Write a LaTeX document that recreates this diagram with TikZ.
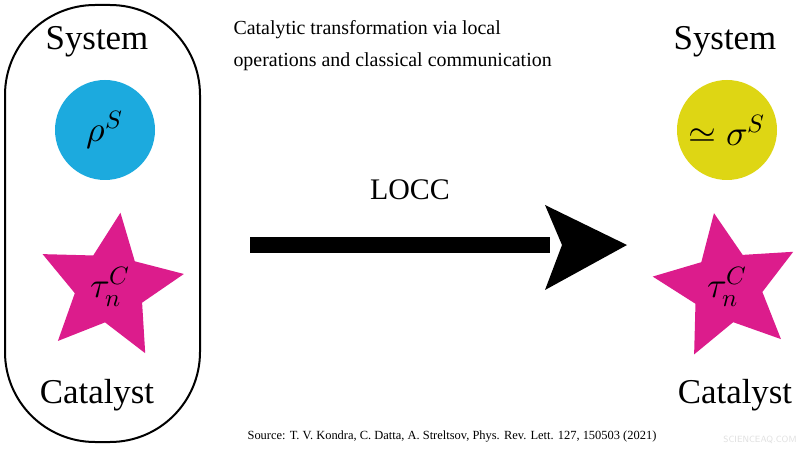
\documentclass[tikz,border=0pt]{standalone}
\usepackage{fontspec}
\usepackage{unicode-math}
\setmainfont{Liberation Serif}
\setmathfont{Latin Modern Math}
\usetikzlibrary{shapes.geometric}
\definecolor{cblue}{RGB}{28,170,222}
\definecolor{cyel}{RGB}{222,214,20}
\definecolor{cmag}{RGB}{220,28,140}
\tikzset{
  big/.style={font=\fontsize{35}{38}\selectfont},
  ball/.style={circle,minimum size=100bp,inner sep=0pt,font=\fontsize{36}{38}\selectfont},
  starshape/.style={star,star points=5,star point ratio=2.1,minimum size=150bp,fill=cmag,inner sep=0pt,font=\fontsize{36}{38}\selectfont},
}
\begin{document}
\begin{tikzpicture}[x=1bp,y=-1bp]
\useasboundingbox (0,0) rectangle (800,450);
\fill[white] (0,0) rectangle (800,450);
\draw[line width=2bp,rounded corners=90bp] (5,5) rectangle (200,442);
\node[big] (s1) at (97,42) {System};
\node[big] (c1) at (97,395) {Catalyst};
\node[ball,fill=cblue] (rho) at (105,130) {$\rho^S$};
\node[starshape,shape border rotate=-8] (st1) at (110,287) {$\tau_n^C$};
\node[anchor=west,font=\fontsize{20}{32}\selectfont,align=left] (cap) at (230,46) {Catalytic transformation via local\\operations and classical communication};
\node[font=\fontsize{30}{34}\selectfont] (locc) at (410,190) {LOCC};
\fill (250,237) rectangle (550,253);
\fill (545,205) -- (627,245) -- (545,290) -- (562,245) -- cycle;
\node[big] (s2) at (725,42) {System};
\node[big] (c2) at (735,395) {Catalyst};
\node[ball,fill=cyel] (sig) at (727,130) {$\simeq\sigma^S$};
\node[starshape,shape border rotate=10] (st2) at (727,287) {$\tau_n^C$};
\node[font=\fontsize{12.5}{14}\selectfont] (src) at (452,437) {Source: T. V. Kondra, C. Datta, A. Streltsov, Phys. Rev. Lett. 127, 150503 (2021)};
\node[font=\sffamily\fontsize{9}{11}\selectfont,text=black!12] (wm) at (760,440) {SCIENCEAQ.COM};
\end{tikzpicture}
\end{document}
